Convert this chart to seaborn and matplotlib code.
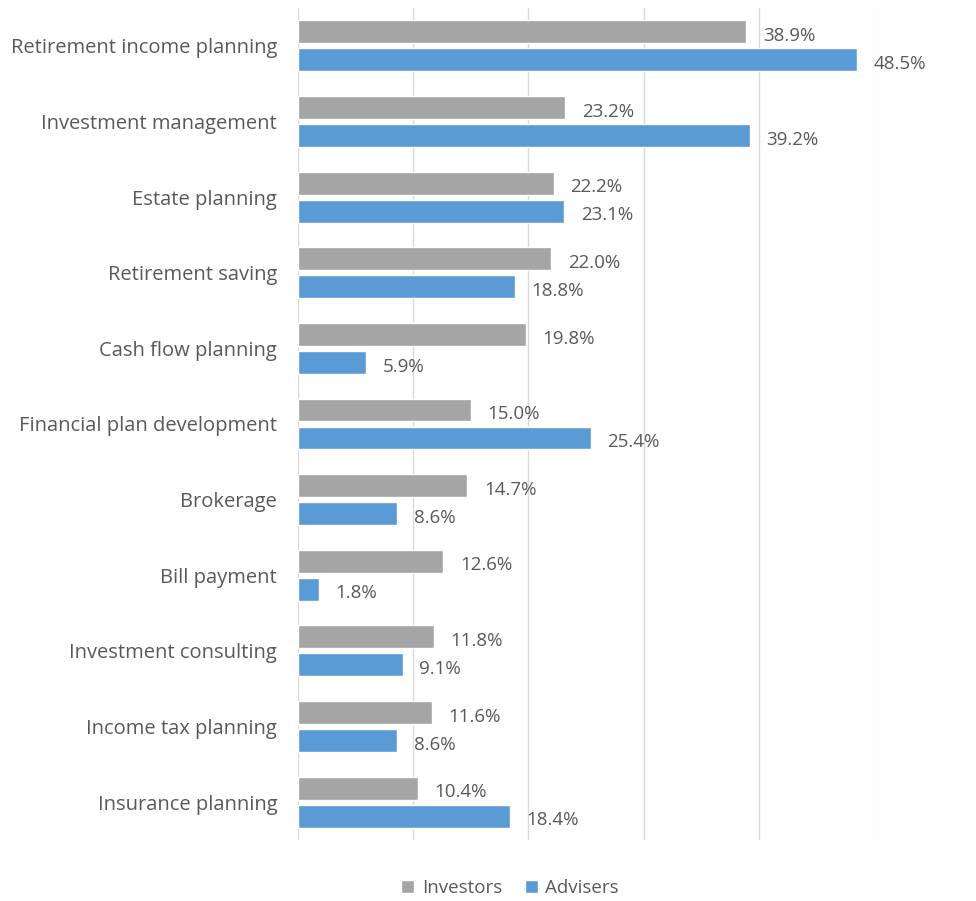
import matplotlib
matplotlib.use("Agg")
import matplotlib.pyplot as plt
from matplotlib.patches import Patch
import seaborn as sns
import pandas as pd

categories = ["Retirement income planning", "Investment management", "Estate planning",
              "Retirement saving", "Cash flow planning", "Financial plan development",
              "Brokerage", "Bill payment", "Investment consulting", "Income tax planning",
              "Insurance planning"]
investors = [38.9, 23.2, 22.2, 22.0, 19.8, 15.0, 14.7, 12.6, 11.8, 11.6, 10.4]
advisers = [48.5, 39.2, 23.1, 18.8, 5.9, 25.4, 8.6, 1.8, 9.1, 8.6, 18.4]
series = ["Investors", "Advisers"]
colors = ["#A5A5A5", "#5B9BD5"]

df = pd.DataFrame({
    "category": categories * 2,
    "value": investors + advisers,
    "series": [series[0]] * len(categories) + [series[1]] * len(categories),
})

sns.set_style("white")
plt.rcParams["font.family"] = ["Open Sans", "DejaVu Sans"]
text_color = "#595959"

fig = plt.figure(figsize=(9.76, 9.01), dpi=100)
ax = fig.add_axes([298 / 976, 1 - 840 / 901, (874 - 298) / 976, (840 - 8) / 901])

sns.barplot(data=df, y="category", x="value", hue="series", order=categories,
            hue_order=series, palette=colors, orient="h", width=0.74, gap=0.18,
            ax=ax, legend=False, saturation=1)

ax.set_xlim(0, 50)
ax.set_xticks([0, 10, 20, 30, 40, 50])
ax.set_xticklabels([])
ax.grid(axis="x", color="#D9D9D9", linewidth=1)
ax.set_axisbelow(True)
for s in ax.spines.values():
    s.set_visible(False)
ax.tick_params(axis="both", length=0)
ax.tick_params(axis="y", labelsize=14.5, labelcolor=text_color, pad=15)
ax.set_xlabel("")
ax.set_ylabel("")

for cont in ax.containers:
    for bar in cont:
        w = bar.get_width()
        ax.annotate(f"{w:.1f}%", (w, bar.get_y() + bar.get_height() / 2),
                    xytext=(12, -3), textcoords="offset points", va="center", ha="left",
                    fontsize=13.5, color=text_color, clip_on=False)

handles = [Patch(facecolor=c, label=s) for c, s in zip(colors, series)]
fig.legend(handles=handles, loc="center", bbox_to_anchor=(510 / 976, 1 - 888 / 901), ncol=2,
           frameon=False, fontsize=13.5, labelcolor=text_color, handlelength=0.7, handleheight=0.7,
           handletextpad=0.4, columnspacing=1.2)

fig.savefig("out.png", dpi=100)
